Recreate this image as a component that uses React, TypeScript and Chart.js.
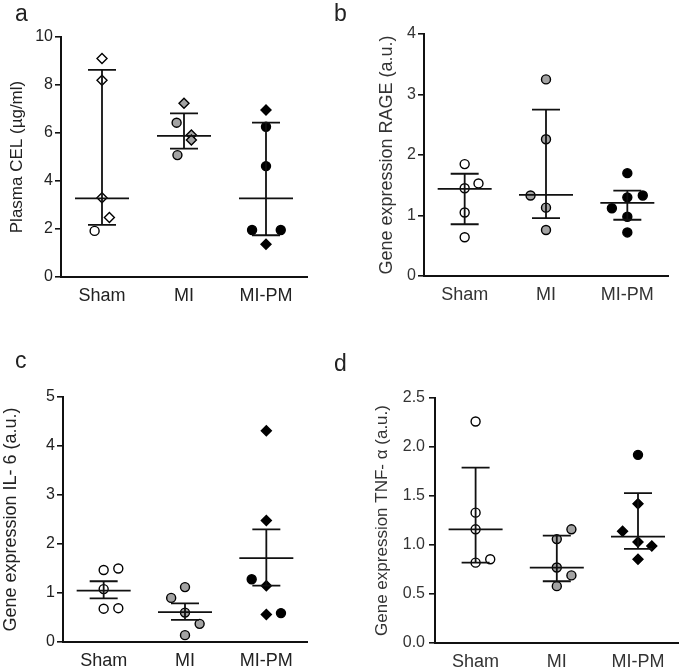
import React, { useEffect, useRef } from 'react';
import { Chart, registerables } from 'chart.js';

Chart.register(...registerables);

const groups = ['Sham', 'MI', 'MI-PM'];

// ---- Panel a: Plasma CEL ----
const aSham = [9.1, 8.2, 3.3, 2.48, 1.92];
const aShamX = [0, 0, 0, 0.09, -0.09];
const aMI = [7.24, 6.43, 5.92, 5.71, 5.08];
const aMIX = [0, -0.09, 0.09, 0.09, -0.08];
const aPM = [6.96, 6.26, 4.62, 1.96, 1.96, 1.36];
const aPMX = [0, 0, 0, -0.17, 0.18, 0];
const aMed = [3.28, 5.88, 3.28];
const aHi = [8.63, 6.82, 6.43];
const aLo = [2.17, 5.35, 1.74];
const aTicks = [0, 2, 4, 6, 8, 10];

// ---- Panel b: RAGE ----
const bSham = [1.85, 1.53, 1.45, 1.05, 0.64];
const bShamX = [0, 0.17, 0, 0, 0];
const bMI = [3.25, 2.26, 1.33, 1.13, 0.76];
const bMIX = [0, 0, -0.19, 0, 0];
const bPM = [1.7, 1.33, 1.3, 1.12, 0.98, 0.72];
const bPMX = [0, 0.19, 0, -0.19, 0, 0];
const bMed = [1.44, 1.34, 1.21];
const bHi = [1.69, 2.75, 1.41];
const bLo = [0.855, 0.955, 0.93];
const bTicks = [0, 1, 2, 3, 4];

// ---- Panel c: IL-6 ----
const cSham = [1.47, 1.5, 1.08, 0.68, 0.69];
const cShamX = [0, 0.18, 0, 0, 0.18];
const cMI = [1.12, 0.9, 0.6, 0.37, 0.14];
const cMIX = [0, -0.17, 0, 0.18, 0];
const cPM = [4.31, 2.48, 1.28, 1.15, 0.56, 0.59];
const cPMX = [0, 0, -0.18, 0, 0, 0.18];
const cMed = [1.05, 0.61, 1.71];
const cHi = [1.24, 0.79, 2.3];
const cLo = [0.89, 0.45, 1.15];
const cTicks = [0, 1, 2, 3, 4, 5];

// ---- Panel d: TNF-alpha ----
const dSham = [2.26, 1.33, 1.16, 0.82, 0.855];
const dShamX = [0, 0, 0, 0, 0.18];
const dMI = [1.16, 1.06, 0.77, 0.69, 0.58];
const dMIX = [0.18, 0, 0, 0.18, 0];
const dPM = [1.92, 1.42, 1.14, 1.03, 0.99, 0.855];
const dPMX = [0, 0, -0.19, 0, 0.17, 0];
const dMed = [1.16, 0.77, 1.085];
const dHi = [1.79, 1.095, 1.53];
const dLo = [0.82, 0.63, 0.96];
const dTicks = [0, 0.5, 1.0, 1.5, 2.0, 2.5];

// ---- styles (marker shapes / fills) ----
const D = 'rectRot';
const C = 'circle';
const aShapes = [[D, D, D, D, C], [D, C, D, D, C], [D, C, C, C, C, D]];
const bShapes = [[C, C, C, C, C], [C, C, C, C, C], [C, C, C, C, C, C]];
const cShapes = [[C, C, C, C, C], [C, C, C, C, C], [D, D, C, D, D, C]];
const dShapes = [[C, C, C, C, C], [C, C, C, C, C], [C, D, D, D, D, D]];
const fills = ['#ffffff', '#a3a3a3', '#000000'];

const FONT = "'Liberation Sans', Arial, sans-serif";

type PanelCfg = {
  left: number; top: number; width: number; height: number;
  padLeft: number; padTop: number; padRight: number;
  yWidth: number; xHeight: number;
  yMax: number; yTicks: number[]; decimals: number;
  title: string; titleSize: number; tickPad: number; textColor: string;
  ys: number[][]; xs: number[][]; shapes: string[][];
  med: number[]; hi: number[]; lo: number[];
};

const panels: PanelCfg[] = [
  {
    left: 0, top: 0, width: 340, height: 320, padLeft: 7, padTop: 37, padRight: 33,
    yWidth: 54, xHeight: 43, yMax: 10, yTicks: aTicks, decimals: 0,
    title: 'Plasma CEL (µg/ml)', titleSize: 17, tickPad: 2, textColor: '#222',
    ys: [aSham, aMI, aPM], xs: [aShamX, aMIX, aPMX], shapes: aShapes,
    med: aMed, hi: aHi, lo: aLo,
  },
  {
    left: 340, top: 0, width: 345, height: 320, padLeft: 36, padTop: 34, padRight: 17,
    yWidth: 48, xHeight: 44, yMax: 4, yTicks: bTicks, decimals: 0,
    title: 'Gene expression RAGE (a.u.)', titleSize: 18, tickPad: 2, textColor: '#333',
    ys: [bSham, bMI, bPM], xs: [bShamX, bMIX, bPMX], shapes: bShapes,
    med: bMed, hi: bHi, lo: bLo,
  },
  {
    left: 0, top: 330, width: 340, height: 341, padLeft: 0, padTop: 67, padRight: 33,
    yWidth: 63, xHeight: 29, yMax: 5, yTicks: cTicks, decimals: 0,
    title: 'Gene expression IL- 6 (a.u.)', titleSize: 18, tickPad: 2, textColor: '#222',
    ys: [cSham, cMI, cPM], xs: [cShamX, cMIX, cPMX], shapes: cShapes,
    med: cMed, hi: cHi, lo: cLo,
  },
  {
    left: 340, top: 330, width: 345, height: 341, padLeft: 32, padTop: 68, padRight: 3,
    yWidth: 63, xHeight: 28, yMax: 2.5, yTicks: dTicks, decimals: 1,
    title: 'Gene expression TNF- α (a.u.)', titleSize: 17, tickPad: 4, textColor: '#333',
    ys: [dSham, dMI, dPM], xs: [dShamX, dMIX, dPMX], shapes: dShapes,
    med: dMed, hi: dHi, lo: dLo,
  },
];

const letters = [
  { t: 'a', left: 15, top: 2 },
  { t: 'b', left: 334, top: 2 },
  { t: 'c', left: 15, top: 349 },
  { t: 'd', left: 334, top: 352 },
];

function Panel({ cfg }: { cfg: PanelCfg }) {
  const ref = useRef<HTMLCanvasElement>(null);
  useEffect(() => {
    if (!ref.current) return;
    const medianPlugin = {
      id: 'medianBars',
      afterDatasetsDraw(chart: any) {
        const { ctx, scales } = chart;
        const x = scales.x, y = scales.y;
        ctx.save();
        ctx.strokeStyle = '#111';
        ctx.lineWidth = 1.8;
        cfg.med.forEach((m, i) => {
          const cx = x.getPixelForValue(i);
          const yh = y.getPixelForValue(cfg.hi[i]);
          const yl = y.getPixelForValue(cfg.lo[i]);
          const ym = y.getPixelForValue(m);
          ctx.beginPath();
          ctx.moveTo(cx, yh); ctx.lineTo(cx, yl);
          ctx.moveTo(cx - 14, yh); ctx.lineTo(cx + 14, yh);
          ctx.moveTo(cx - 14, yl); ctx.lineTo(cx + 14, yl);
          ctx.moveTo(cx - 27, ym); ctx.lineTo(cx + 27, ym);
          ctx.stroke();
        });
        ctx.restore();
      },
    };
    const datasets = cfg.ys.map((vals, g) => ({
      label: groups[g],
      data: vals.map((v, k) => ({ x: g + cfg.xs[g][k], y: v })),
      pointStyle: cfg.shapes[g],
      pointRadius: cfg.shapes[g].map((s) => (s === 'rectRot' ? 5 : 4.5)),
      backgroundColor: fills[g],
      borderColor: '#000',
      pointBorderWidth: 1.4,
      showLine: false,
    }));
    const chart = new Chart(ref.current, {
      type: 'scatter',
      data: { datasets },
      plugins: [medianPlugin],
      options: {
        animation: false,
        responsive: false,
        devicePixelRatio: 1,
        events: [],
        layout: { padding: { left: cfg.padLeft, top: cfg.padTop, right: cfg.padRight, bottom: 0 } },
        plugins: { legend: { display: false }, tooltip: { enabled: false }, title: { display: false } },
        scales: {
          x: {
            type: 'linear',
            min: -0.5,
            max: 2.5,
            afterBuildTicks: (s: any) => { s.ticks = groups.map((_, i) => ({ value: i })); },
            afterFit: (s: any) => { s.height = cfg.xHeight; },
            grid: { display: false, drawTicks: false },
            border: { display: true, color: '#111', width: 2 },
            ticks: {
              padding: 8,
              color: cfg.textColor,
              font: { family: FONT, size: 18 },
              maxRotation: 0,
              autoSkip: false,
              callback: (v: any) => groups[Math.round(Number(v))] ?? '',
            },
          },
          y: {
            type: 'linear',
            min: 0,
            max: cfg.yMax,
            afterBuildTicks: (s: any) => { s.ticks = cfg.yTicks.map((v) => ({ value: v })); },
            afterFit: (s: any) => { s.width = cfg.yWidth; },
            grid: { display: true, drawOnChartArea: false, drawTicks: true, tickLength: 6, color: '#111', lineWidth: 1.6 },
            border: { display: true, color: '#111', width: 2 },
            ticks: {
              padding: cfg.tickPad,
              color: cfg.textColor,
              font: { family: FONT, size: 16 },
              autoSkip: false,
              callback: (v: any) => Number(v).toFixed(cfg.decimals),
            },
            title: {
              display: true,
              text: cfg.title,
              color: cfg.textColor,
              padding: 0,
              font: { family: FONT, size: cfg.titleSize },
            },
          },
        },
      } as any,
    });
    return () => chart.destroy();
  }, [cfg]);
  return (
    <canvas
      ref={ref}
      width={cfg.width}
      height={cfg.height}
      style={{ position: 'absolute', left: cfg.left, top: cfg.top, width: cfg.width, height: cfg.height }}
    />
  );
}

export default function App() {
  return (
    <div style={{ position: 'fixed', left: 0, top: 0, width: 685, height: 671, background: '#fff', overflow: 'hidden' }}>
      {panels.map((p, i) => (
        <Panel key={i} cfg={p} />
      ))}
      {letters.map((l) => (
        <div
          key={l.t}
          style={{
            position: 'absolute', left: l.left, top: l.top, fontFamily: FONT, fontSize: 23,
            lineHeight: '23px', color: '#222',
          }}
        >
          {l.t}
        </div>
      ))}
    </div>
  );
}
